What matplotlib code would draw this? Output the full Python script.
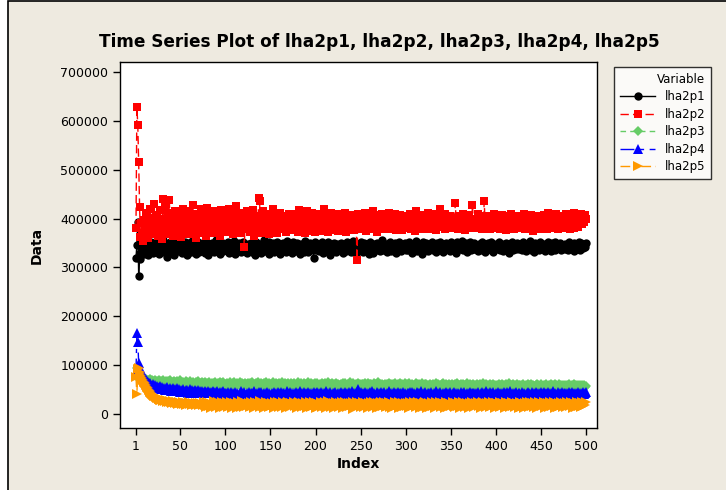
import matplotlib
matplotlib.use("Agg")
import matplotlib.pyplot as plt
from matplotlib.patches import Rectangle
import numpy as np

# values, in thousands
lha2p1 = [
    320, 345, 393, 282, 330, 318, 352, 337, 344, 328, 349, 335, 341, 326, 355, 339, 331, 347, 343, 329, 336, 352, 340, 333, 346,
    338, 327, 350, 342, 334, 356, 331, 345, 337, 322, 348, 340, 335, 353, 330, 344, 338, 326, 351, 341, 336, 347, 333, 358, 339,
    342, 329, 346, 337, 352, 334, 341, 325, 349, 338, 344, 331, 355, 340, 336, 348, 327, 343, 339, 351, 332, 346, 341, 335, 350,
    337, 344, 330, 353, 339, 326, 347, 342, 335, 349, 338, 331, 345, 340, 357, 333, 343, 336, 328, 351, 341, 346, 334, 339, 348,
    335, 342, 351, 329, 344, 338, 347, 333, 340, 354, 327, 345, 339, 336, 349, 342, 331, 346, 337, 352, 340, 334, 343, 330, 348,
    341, 336, 350, 344, 332, 347, 339, 325, 353, 338, 342, 335, 348, 341, 330, 345, 337, 356, 333, 343, 339, 346, 328, 351, 340,
    344, 337, 349, 331, 342, 338, 352, 334, 346, 340, 327, 343, 336, 350, 345, 339, 332, 354, 341, 347, 335, 338, 344, 329, 353,
    339, 346, 333, 341, 350, 336, 343, 328, 348, 338, 344, 332, 355, 340, 337, 346, 331, 342, 349, 335, 345, 339, 320, 351, 343,
    336, 348, 341, 333, 345, 339, 352, 330, 344, 337, 347, 334, 341, 353, 338, 326, 346, 342, 335, 349, 340, 344, 331, 347, 338,
    343, 335, 350, 340, 329, 346, 338, 344, 333, 352, 341, 336, 348, 331, 345, 339, 354, 337, 342, 328, 347, 340, 343, 335, 351,
    338, 345, 332, 349, 341, 336, 347, 340, 327, 352, 343, 337, 345, 330, 348, 342, 335, 350, 339, 344, 333, 346, 341, 356, 336,
    344, 339, 348, 331, 345, 338, 342, 353, 334, 347, 340, 336, 349, 329, 343, 345, 337, 351, 340, 333, 346, 342, 338, 350, 335,
    341, 347, 336, 352, 339, 344, 330, 346, 342, 338, 355, 333, 345, 340, 348, 336, 343, 328, 351, 339, 345, 337, 349, 341, 334,
    346, 340, 343, 351, 335, 347, 338, 344, 332, 349, 342, 337, 353, 339, 345, 331, 348, 341, 336, 350, 343, 338, 346, 333, 352,
    339, 345, 336, 348, 342, 330, 351, 340, 346, 337, 343, 354, 335, 347, 341, 338, 349, 332, 344, 340, 352, 336, 345, 342, 338,
    350, 337, 344, 341, 333, 348, 346, 339, 353, 335, 342, 347, 331, 345, 340, 349, 338, 343, 336, 351, 344, 332, 347, 341, 339,
    345, 338, 352, 336, 343, 340, 348, 334, 346, 342, 350, 337, 344, 330, 348, 341, 339, 353, 335, 346, 343, 337, 349, 340, 345,
    338, 347, 342, 335, 351, 340, 344, 333, 348, 339, 346, 341, 355, 336, 343, 345, 332, 350, 338, 347, 341, 344, 336, 352, 340,
    343, 339, 348, 334, 346, 342, 337, 351, 340, 345, 333, 349, 341, 338, 353, 336, 344, 347, 339, 342, 350, 335, 346, 340, 343,
    337, 348, 341, 345, 336, 352, 339, 344, 342, 347, 334, 350, 340, 346, 338, 343, 351, 336, 349, 341, 345, 339, 348, 342, 350,
]

lha2p2 = [
    380, 628, 592, 516, 424, 362, 390, 370, 355, 398, 375, 412, 385, 360, 402, 378, 420, 368, 395, 388, 430, 372, 408, 382, 365,
    400, 376, 418, 390, 358, 440, 383, 425, 369, 397, 412, 380, 438, 372, 394, 405, 365, 388, 415, 378, 400, 392, 370, 410, 385,
    362, 398, 420, 376, 390, 408, 372, 385, 415, 368, 402, 380, 395, 428, 375, 388, 410, 360, 398, 382, 405, 376, 420, 390, 370,
    412, 384, 398, 365, 422, 388, 376, 405, 392, 370, 415, 380, 398, 386, 410, 374, 402, 392, 365, 418, 385, 396, 378, 408, 390,
    382, 405, 372, 420, 395, 378, 410, 385, 368, 400, 392, 425, 375, 402, 388, 412, 370, 396, 385, 408, 342, 392, 378, 415, 388,
    400, 372, 410, 390, 380, 418, 365, 398, 386, 405, 376, 442, 436, 382, 400, 370, 415, 388, 392, 378, 405, 385, 368, 410, 395,
    382, 398, 420, 375, 405, 388, 370, 410, 392, 385, 412, 378, 398, 395, 405, 395, 372, 405, 388, 380, 410, 392, 376, 400, 385,
    410, 378, 395, 388, 405, 372, 418, 385, 398, 380, 408, 392, 370, 402, 386, 415, 375, 400, 390, 378, 412, 385, 398, 372, 405,
    392, 380, 410, 386, 398, 375, 405, 390, 420, 378, 395, 385, 408, 372, 400, 388, 412, 376, 396, 390, 380, 405, 385, 398, 375,
    410, 388, 395, 378, 402, 390, 385, 412, 372, 398, 386, 405, 380, 395, 388, 388, 408, 376, 400, 392, 315, 410, 378, 395, 388,
    402, 380, 396, 388, 412, 375, 400, 392, 385, 405, 378, 398, 390, 415, 382, 395, 388, 372, 408, 385, 400, 390, 378, 410, 386,
    395, 382, 405, 390, 378, 412, 388, 398, 380, 402, 392, 385, 410, 376, 400, 388, 395, 382, 408, 390, 376, 402, 385, 398, 390,
    380, 405, 392, 385, 410, 378, 398, 388, 402, 375, 415, 390, 385, 400, 380, 408, 392, 378, 396, 388, 405, 382, 398, 390, 412,
    378, 400, 388, 395, 382, 410, 390, 376, 405, 392, 385, 398, 420, 382, 395, 388, 402, 378, 410, 392, 385, 398, 380, 405, 390,
    388, 402, 380, 395, 432, 385, 392, 378, 406, 390, 398, 382, 410, 388, 395, 376, 402, 392, 385, 408, 380, 398, 390, 428, 385,
    400, 388, 395, 380, 410, 392, 385, 398, 378, 405, 390, 435, 388, 398, 382, 405, 392, 378, 400, 388, 395, 385, 410, 380, 398,
    390, 385, 402, 378, 395, 388, 408, 382, 398, 390, 376, 405, 392, 385, 400, 380, 410, 388, 395, 378, 402, 390, 385, 398, 382,
    405, 390, 380, 398, 385, 410, 378, 395, 392, 402, 385, 398, 380, 408, 390, 375, 400, 388, 396, 382, 405, 390, 378, 400, 385,
    395, 382, 408, 390, 385, 400, 378, 412, 392, 385, 398, 380, 405, 390, 396, 382, 410, 388, 378, 402, 392, 385, 398, 380, 405,
    390, 385, 410, 382, 398, 392, 378, 405, 388, 396, 380, 412, 390, 385, 400, 382, 408, 395, 410, 388, 398, 405, 392, 408, 400,
]

lha2p3 = [
    80, 95, 88, 76, 72, 70, 74, 68, 71, 66, 69, 72, 67, 70, 65, 68, 71, 66, 69, 64, 67, 70, 65, 68, 63,
    66, 69, 64, 67, 62, 70, 65, 63, 68, 66, 61, 67, 64, 69, 62, 66, 63, 68, 65, 60, 67, 64, 62, 66, 69,
    63, 60, 66, 64, 62, 68, 59, 65, 63, 61, 67, 64, 60, 66, 62, 58, 65, 63, 61, 67, 59, 64, 62, 66, 60,
    63, 58, 65, 61, 64, 59, 66, 62, 60, 64, 57, 63, 61, 65, 59, 62, 64, 58, 66, 61, 63, 59, 65, 60, 62,
    58, 64, 61, 59, 65, 62, 57, 63, 60, 66, 58, 62, 64, 59, 61, 65, 57, 63, 60, 62, 58, 64, 61, 59, 63,
    60, 64, 58, 62, 65, 59, 61, 57, 63, 60, 66, 58, 62, 59, 64, 61, 57, 63, 60, 65, 58, 62, 60, 64, 59,
    62, 58, 65, 60, 57, 63, 61, 59, 64, 58, 62, 60, 66, 57, 61, 63, 59, 62, 58, 64, 60, 57, 63, 61, 59,
    64, 60, 57, 62, 59, 65, 58, 61, 63, 57, 60, 64, 59, 62, 58, 61, 65, 57, 60, 63, 59, 62, 58, 64, 60,
    58, 63, 60, 57, 62, 59, 64, 61, 57, 60, 63, 58, 62, 66, 59, 61, 57, 63, 60, 58, 62, 59, 64, 57, 61,
    60, 57, 62, 59, 64, 58, 61, 63, 57, 60, 62, 58, 65, 59, 61, 57, 63, 60, 58, 62, 59, 64, 57, 61, 60,
    62, 58, 61, 57, 63, 60, 59, 64, 57, 61, 58, 62, 60, 57, 63, 59, 61, 58, 65, 60, 57, 62, 59, 61, 58,
    59, 62, 57, 61, 58, 64, 60, 57, 62, 59, 61, 57, 63, 58, 60, 62, 57, 59, 64, 58, 61, 57, 60, 63, 58,
    61, 57, 60, 63, 58, 59, 62, 57, 60, 58, 64, 59, 61, 57, 62, 58, 60, 63, 57, 59, 61, 58, 62, 57, 60,
    58, 62, 59, 57, 61, 60, 58, 63, 57, 59, 62, 58, 60, 57, 61, 64, 58, 59, 57, 62, 60, 58, 61, 57, 59,
    62, 57, 60, 58, 61, 59, 63, 57, 60, 58, 62, 56, 59, 61, 57, 60, 58, 63, 57, 59, 61, 56, 60, 58, 62,
    57, 60, 58, 62, 56, 59, 61, 57, 60, 58, 63, 56, 59, 61, 57, 60, 58, 62, 56, 59, 57, 61, 58, 60, 56,
    59, 57, 61, 58, 56, 60, 62, 57, 59, 56, 61, 58, 60, 57, 63, 56, 59, 58, 61, 57, 60, 56, 62, 58, 59,
    57, 60, 56, 59, 61, 58, 56, 60, 57, 62, 58, 59, 56, 61, 57, 60, 58, 56, 59, 62, 57, 60, 58, 56, 61,
    58, 56, 60, 57, 59, 61, 56, 58, 60, 57, 62, 56, 59, 58, 61, 57, 60, 56, 58, 61, 57, 59, 56, 60, 58,
    57, 60, 56, 59, 58, 61, 57, 56, 60, 58, 57, 61, 56, 59, 58, 60, 57, 59, 56, 60, 58, 57, 59, 56, 58,
]

lha2p4 = [
    85, 165, 148, 105, 95, 90, 86, 82, 78, 75, 73, 70, 68, 66, 64, 63, 61, 60, 58, 62, 57, 59, 55, 58, 54,
    56, 53, 57, 52, 55, 51, 54, 50, 53, 56, 49, 52, 50, 54, 48, 51, 53, 49, 52, 47, 50, 53, 48, 51, 46,
    50, 47, 52, 48, 45, 50, 47, 49, 44, 48, 51, 46, 49, 45, 47, 50, 44, 48, 46, 49, 43, 47, 45, 48, 44,
    46, 43, 48, 45, 42, 47, 44, 46, 42, 45, 48, 43, 46, 41, 45, 47, 42, 44, 46, 41, 45, 43, 47, 42, 44,
    44, 40, 46, 37, 42, 45, 39, 43, 36, 41, 46, 38, 44, 40, 35, 43, 47, 39, 42, 37, 45, 41, 38, 44, 40,
    46, 39, 42, 35, 44, 41, 47, 38, 40, 43, 36, 45, 42, 39, 46, 37, 41, 44, 34, 42, 45, 39, 43, 38, 41,
    37, 44, 41, 46, 38, 42, 35, 45, 40, 43, 39, 46, 36, 42, 44, 38, 41, 47, 37, 43, 40, 45, 38, 42, 39,
    43, 38, 45, 40, 36, 44, 41, 47, 39, 42, 37, 45, 40, 43, 35, 41, 46, 38, 44, 39, 42, 36, 45, 40, 43,
    40, 45, 37, 43, 41, 46, 38, 42, 35, 44, 40, 47, 39, 43, 37, 45, 41, 38, 44, 36, 42, 46, 39, 41, 44,
    38, 42, 45, 39, 44, 36, 41, 46, 40, 43, 37, 45, 39, 42, 47, 38, 41, 44, 36, 43, 46, 51, 42, 39, 45,
    41, 37, 44, 40, 46, 38, 43, 35, 42, 45, 39, 41, 47, 37, 44, 40, 38, 45, 42, 36, 43, 41, 46, 39, 42,
    45, 40, 36, 43, 41, 47, 38, 44, 39, 42, 35, 46, 40, 43, 38, 45, 41, 37, 44, 42, 39, 46, 36, 43, 40,
    39, 44, 42, 37, 45, 40, 46, 38, 43, 36, 41, 45, 39, 44, 42, 37, 47, 40, 38, 43, 45, 39, 41, 36, 44,
    42, 38, 45, 41, 36, 44, 39, 47, 40, 43, 37, 42, 46, 38, 41, 44, 35, 43, 40, 45, 39, 42, 37, 46, 41,
    37, 43, 40, 46, 39, 42, 38, 44, 41, 35, 45, 40, 43, 37, 46, 41, 39, 44, 36, 42, 45, 38, 43, 40, 44,
    44, 39, 42, 37, 45, 41, 36, 43, 46, 40, 38, 44, 41, 47, 39, 42, 37, 45, 40, 43, 38, 46, 41, 36, 42,
    40, 45, 38, 43, 41, 36, 44, 39, 46, 42, 37, 45, 40, 43, 38, 47, 41, 39, 44, 36, 42, 45, 38, 41, 43,
    43, 37, 41, 45, 39, 44, 40, 36, 42, 46, 38, 43, 41, 37, 45, 39, 44, 40, 46, 38, 42, 36, 43, 41, 45,
    38, 42, 46, 40, 37, 44, 41, 45, 39, 43, 36, 42, 47, 40, 38, 44, 41, 39, 45, 37, 43, 40, 46, 38, 42,
    41, 44, 39, 43, 37, 45, 40, 42, 46, 38, 41, 44, 36, 43, 40, 45, 39, 42, 37, 44, 41, 46, 40, 43, 45,
]

lha2p5 = [
    75, 40, 92, 95, 85, 82, 78, 74, 70, 66, 63, 60, 56, 53, 50, 48, 45, 43, 41, 39, 37, 36, 34, 33, 32,
    31, 30, 29, 28, 30, 27, 28, 26, 29, 25, 27, 26, 24, 27, 25, 23, 26, 24, 22, 25, 23, 24, 21, 24, 22,
    23, 21, 24, 20, 22, 23, 19, 22, 21, 24, 20, 22, 19, 23, 21, 20, 22, 18, 21, 23, 19, 22, 20, 21, 18,
    24, 18, 21, 15, 25, 20, 17, 23, 13, 21, 19, 26, 16, 22, 14, 20, 24, 18, 12, 21, 25, 17, 20, 15, 23,
    19, 24, 14, 21, 17, 25, 13, 22, 19, 16, 23, 20, 12, 24, 18, 21, 15, 26, 17, 22, 14, 20, 23, 16, 19,
    22, 15, 20, 25, 17, 21, 13, 24, 18, 16, 22, 19, 26, 14, 20, 23, 17, 12, 21, 24, 16, 19, 22, 15, 20,
    17, 23, 19, 13, 24, 20, 16, 25, 18, 14, 22, 20, 15, 24, 19, 21, 12, 23, 17, 25, 19, 14, 22, 18, 21,
    24, 16, 21, 18, 13, 22, 25, 17, 20, 14, 23, 19, 16, 24, 21, 13, 20, 18, 25, 15, 22, 17, 24, 19, 12,
    20, 23, 15, 21, 18, 25, 14, 19, 22, 16, 24, 13, 20, 26, 17, 21, 15, 23, 18, 12, 22, 19, 24, 16, 20,
    15, 22, 19, 24, 13, 20, 17, 25, 21, 14, 19, 23, 16, 22, 18, 11, 24, 20, 15, 21, 25, 17, 19, 22, 14,
    21, 17, 24, 15, 20, 23, 18, 13, 22, 19, 25, 16, 21, 14, 24, 18, 20, 12, 23, 17, 22, 15, 25, 19, 16,
    24, 19, 14, 22, 17, 25, 20, 15, 23, 12, 21, 18, 24, 16, 22, 19, 13, 25, 17, 21, 14, 23, 19, 16, 22,
    17, 23, 20, 13, 24, 18, 21, 16, 25, 19, 14, 22, 17, 24, 20, 12, 23, 18, 15, 22, 25, 16, 20, 13, 21,
    22, 15, 19, 25, 17, 21, 13, 24, 18, 22, 16, 20, 25, 14, 19, 23, 17, 21, 12, 24, 18, 15, 22, 20, 16,
    19, 24, 16, 21, 14, 23, 20, 17, 25, 13, 22, 18, 16, 24, 21, 15, 20, 23, 17, 12, 22, 19, 25, 16, 21,
    14, 20, 23, 18, 25, 16, 21, 13, 22, 19, 24, 17, 20, 15, 23, 18, 25, 14, 21, 19, 16, 24, 20, 13, 22,
    23, 17, 21, 14, 24, 19, 16, 22, 20, 13, 25, 18, 21, 16, 23, 14, 20, 24, 17, 22, 15, 19, 23, 18, 12,
    20, 24, 15, 22, 18, 13, 23, 19, 25, 16, 21, 14, 24, 20, 17, 22, 15, 25, 19, 13, 21, 18, 24, 16, 22,
    16, 21, 24, 13, 20, 23, 17, 22, 14, 25, 19, 16, 21, 24, 18, 12, 22, 20, 15, 23, 17, 25, 19, 14, 21,
    22, 18, 14, 24, 19, 21, 16, 25, 20, 13, 23, 18, 21, 15, 24, 19, 17, 22, 14, 25, 20, 16, 23, 19, 24,
]

names = ["lha2p1", "lha2p2", "lha2p3", "lha2p4", "lha2p5"]
colors = ["black", "#FF0000", "#66CC66", "#0000FF", "#FF9900"]
markers = ["o", "s", "D", "^", ">"]
msizes = [6, 6, 5.5, 7, 7]
dashes = [None, (6, 3), (4, 3), (10, 4, 3, 4), (7, 3, 2, 3)]
xticks = [1, 50, 100, 150, 200, 250, 300, 350, 400, 450, 500]
yticks = [0, 100000, 200000, 300000, 400000, 500000, 600000, 700000]

fig = plt.figure(figsize=(7.26, 4.9), dpi=100, facecolor="white")
# beige panel with black frame on top/left
fig.patches.append(Rectangle((8 / 726, -0.1), 1.1, 1.1 - 1 / 490, transform=fig.transFigure,
                             facecolor="#EEEAE0", edgecolor="black", linewidth=1.2, zorder=-10))

ax = fig.add_axes([120 / 726, 62 / 490, 477 / 726, 366 / 490])
ax.set_facecolor("white")

series = [lha2p1, lha2p2, lha2p3, lha2p4, lha2p5]
for vals, name, c, m, ms, d in zip(series, names, colors, markers, msizes, dashes):
    y = np.array(vals) * 1000
    x = np.arange(1, len(y) + 1)
    line, = ax.plot(x, y, color=c, marker=m, markersize=ms, markeredgewidth=0,
                    linewidth=1, label=name)
    if d is not None:
        line.set_dashes(d)

ax.set_xlim(-16.7, 512)
ax.set_ylim(-28650, 720400)
ax.set_xticks(xticks)
ax.set_yticks(yticks)
ax.tick_params(direction="out", length=5, width=1, labelsize=9, top=False, right=False)
for s in ax.spines.values():
    s.set_linewidth(1)

ax.set_xlabel("Index", fontsize=10, fontweight="bold", labelpad=3)
ax.set_ylabel("Data", fontsize=10, fontweight="bold", labelpad=12)
fig.text(379 / 726, 1 - 42 / 490, "Time Series Plot of lha2p1, lha2p2, lha2p3, lha2p4, lha2p5",
         ha="center", va="center", fontsize=12.2, fontweight="bold")

leg = fig.legend(loc="upper left", bbox_to_anchor=(614 / 726, 1 - 67 / 490), title="Variable",
                 fontsize=8.5, title_fontsize=8.5, frameon=True, fancybox=False, numpoints=1,
                 handlelength=3.0, handletextpad=0.8, borderpad=0.5, labelspacing=0.38,
                 borderaxespad=0, alignment="right")
leg.get_frame().set_edgecolor("black")
leg.get_frame().set_linewidth(1)
leg.get_frame().set_facecolor("white")

fig.savefig("out.png", dpi=100)
